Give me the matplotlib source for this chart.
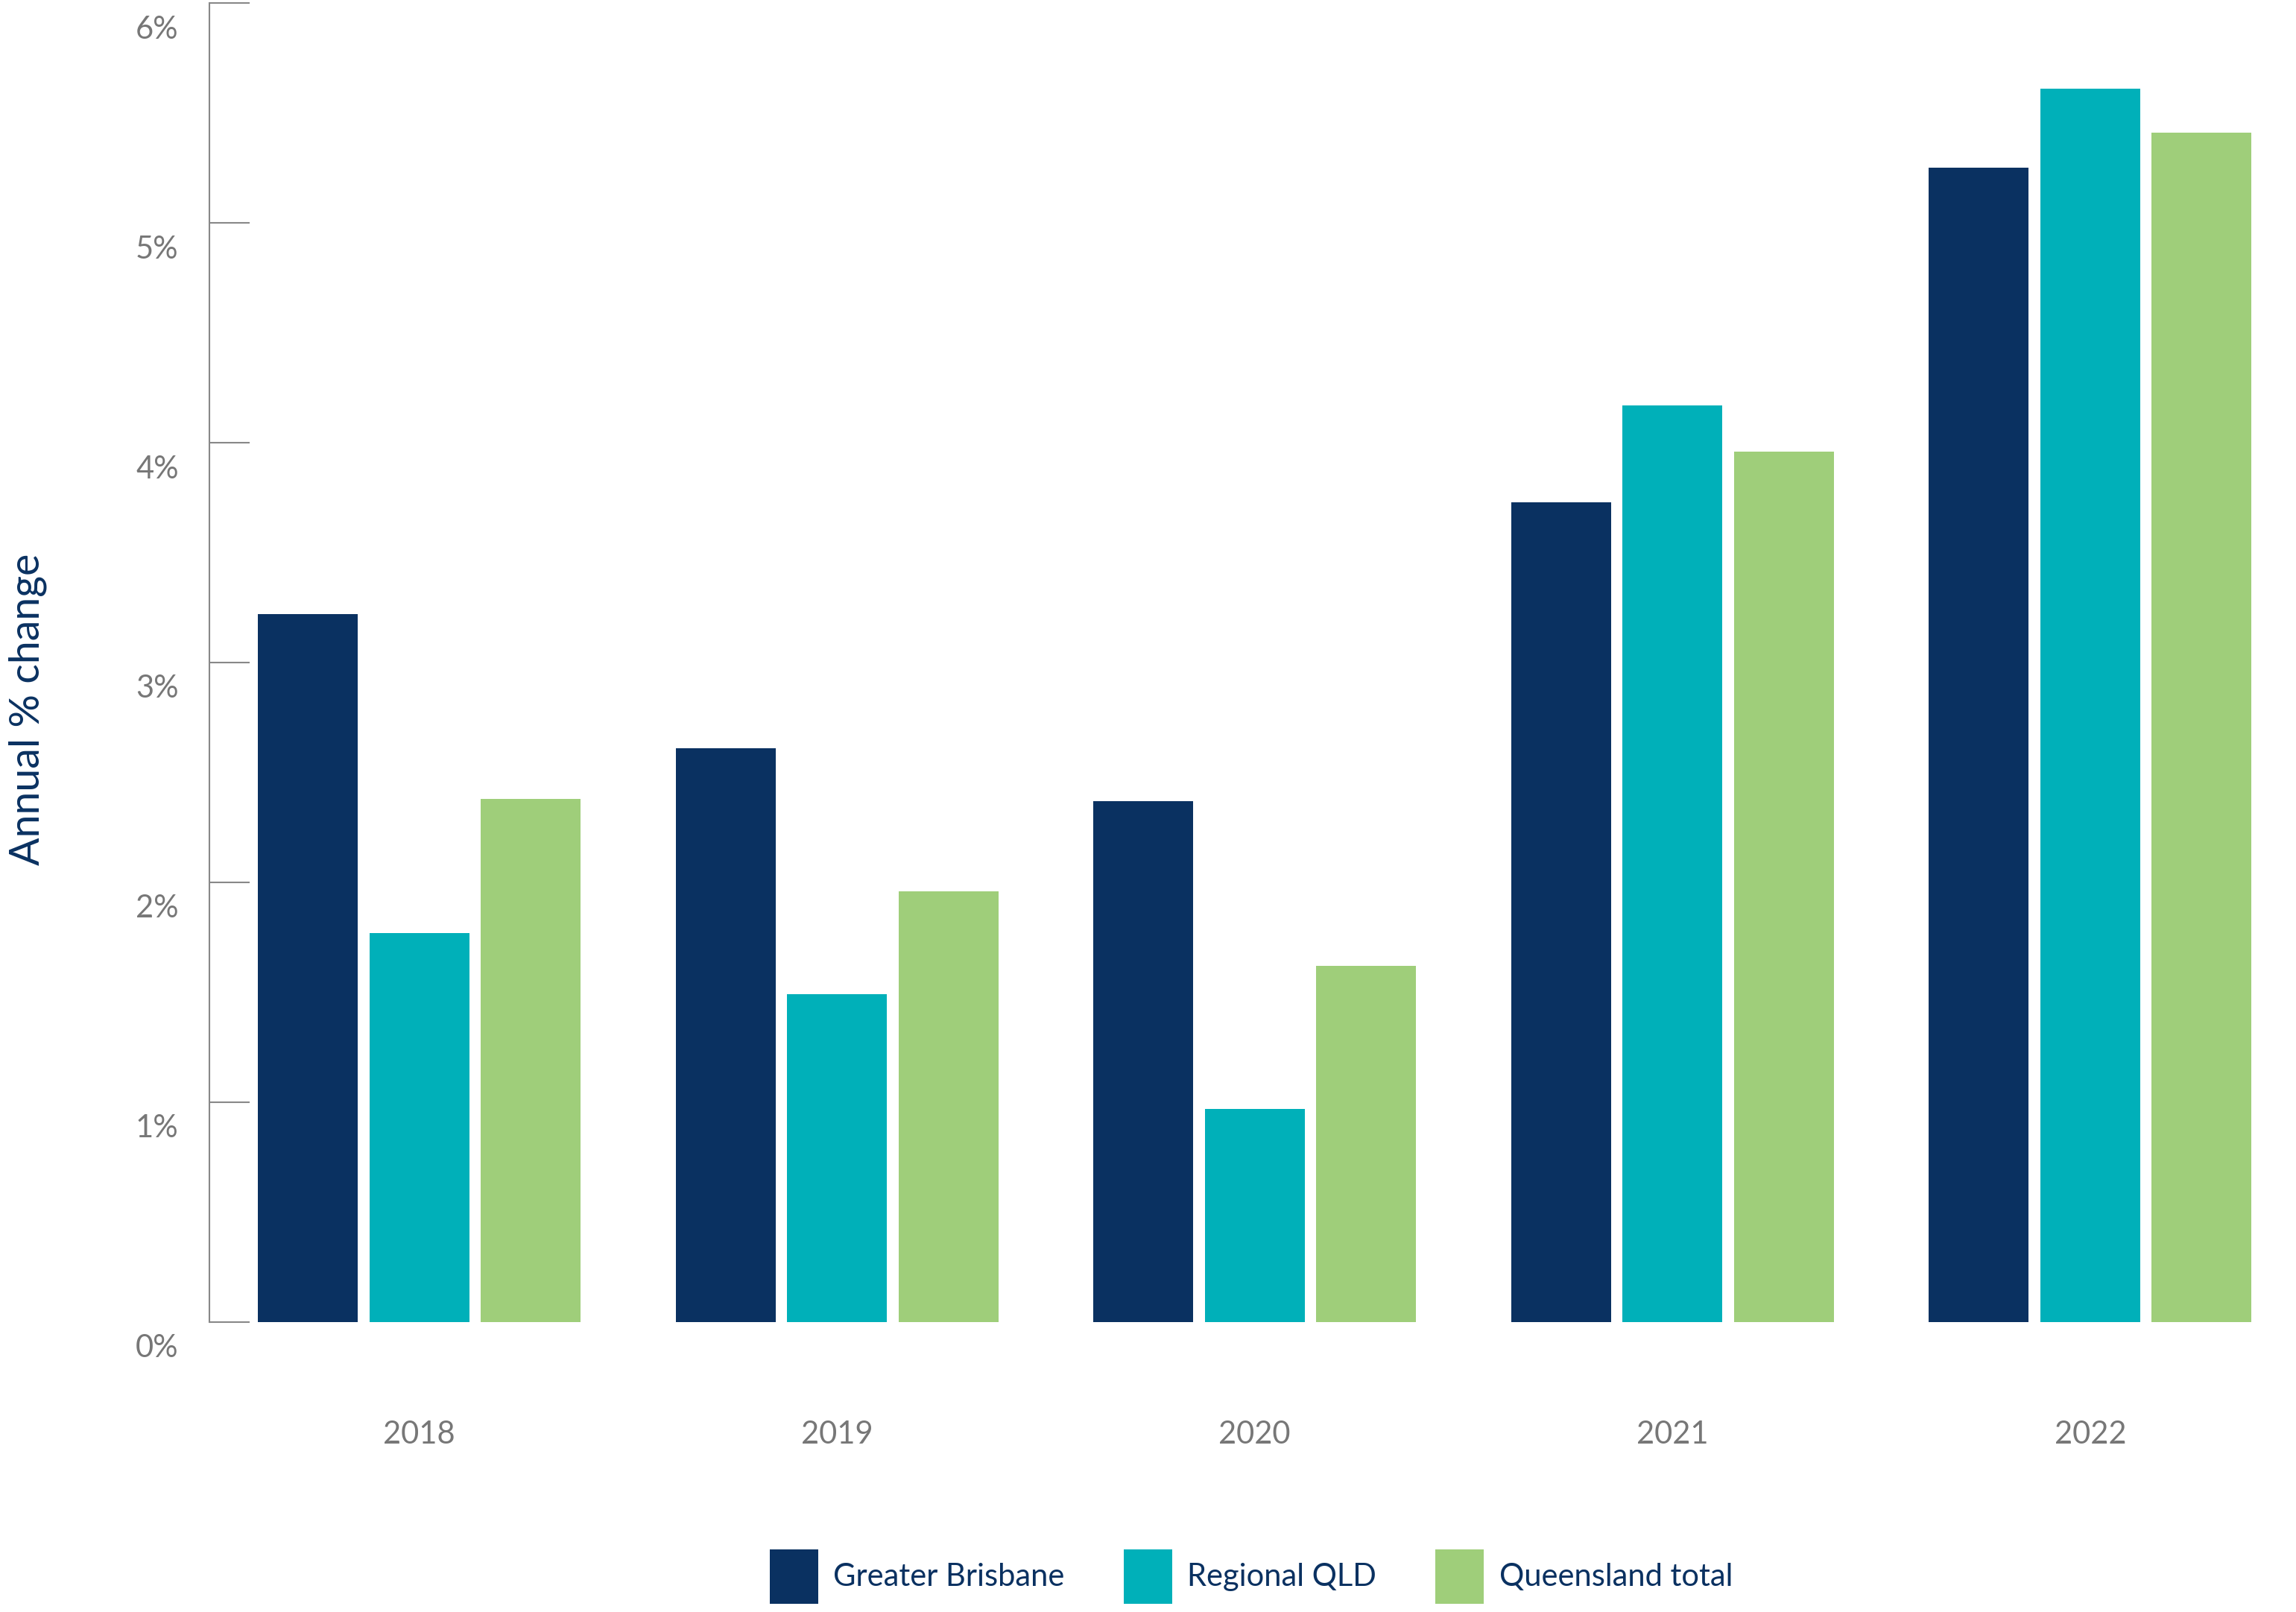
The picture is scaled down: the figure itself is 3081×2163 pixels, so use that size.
import matplotlib.pyplot as plt
import numpy as np
from matplotlib.transforms import ScaledTranslation
from matplotlib.patches import Patch

plt.rcParams["font.family"] = "Lato"

years = ["2018", "2019", "2020", "2021", "2022"]
greater_brisbane = [3.22, 2.61, 2.37, 3.73, 5.25]
regional_qld = [1.77, 1.49, 0.97, 4.17, 5.61]
queensland_total = [2.38, 1.96, 1.62, 3.96, 5.41]

series = [
    ("Greater Brisbane", greater_brisbane, "#0a3161"),
    ("Regional QLD", regional_qld, "#00b0b9"),
    ("Queensland total", queensland_total, "#9fce7a"),
]

fig = plt.figure(figsize=(30.81, 21.63), dpi=100)
ax = fig.add_axes([0.0913, 0.18, 0.890, 0.818])

x = np.arange(len(years))
width = 0.239
step = 0.267
for i, (name, vals, col) in enumerate(series):
    ax.bar(x + (i - 1) * step, vals, width=width, color=col, label=name)

ax.set_xlim(-0.502, 4.39)
ax.set_ylim(0, 6)
ax.set_yticks(range(7))
ax.set_yticklabels([f"{v}%" for v in range(7)])
for sp in ["top", "right", "bottom"]:
    ax.spines[sp].set_visible(False)
ax.spines["left"].set_color("#888888")
ax.spines["left"].set_linewidth(1.5)
ax.tick_params(axis="y", direction="in", length=39, width=1.5, color="#888888",
               labelsize=30, labelcolor="#777777", pad=30)
for lab in ax.get_yticklabels():
    lab.set_transform(lab.get_transform() + ScaledTranslation(0, -0.32, fig.dpi_scale_trans))
ax.set_xticks(x)
ax.set_xticklabels(years)
ax.tick_params(axis="x", length=0, labelsize=30, labelcolor="#777777", pad=95)

fig.text(0.012, 0.56, "Annual % change", rotation=90, ha="center", va="center",
         fontsize=40, color="#0a3161")

handles = [Patch(facecolor=c, label=n) for n, _, c in series]
fig.legend(handles=handles, loc="center", bbox_to_anchor=(0.545, 0.022), ncol=3,
           frameon=False, fontsize=30, handlelength=1.55, handleheight=2.3,
           handletextpad=0.5, columnspacing=1.9, labelcolor="#0a3161")

fig.savefig("out.png", dpi=100)
